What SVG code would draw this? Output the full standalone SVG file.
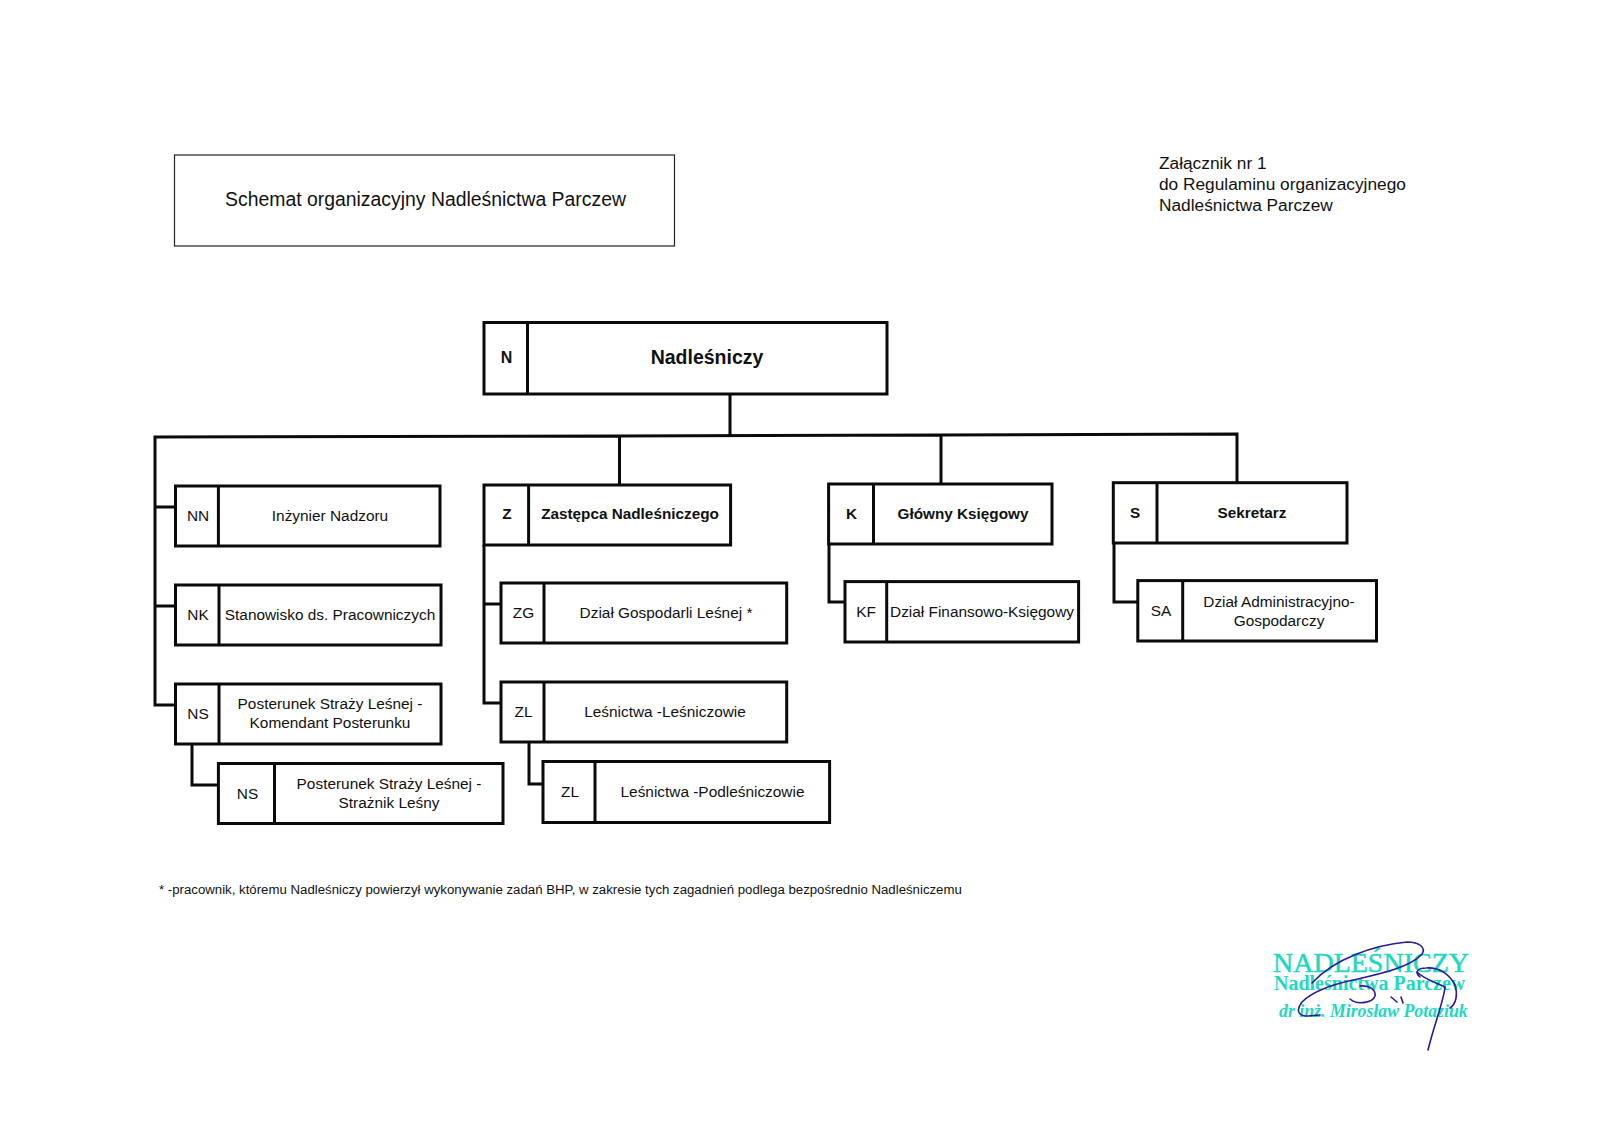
<svg xmlns="http://www.w3.org/2000/svg" width="1600" height="1131" viewBox="0 0 1600 1131">
<style>
text{font-family:"Liberation Sans",Arial,sans-serif;fill:#111;text-anchor:middle}
.b{fill:#fff;stroke:#0a0a0a;stroke-width:3}
.d{fill:none;stroke:#0a0a0a;stroke-width:3}
.c{fill:none;stroke:#0a0a0a;stroke-width:3;stroke-linejoin:miter}
.l{font-size:15.4px}
.h{font-size:15.3px;font-weight:bold}
.s{fill:none;stroke:#2a1a9a;stroke-width:1.6;stroke-linecap:round}
.st{font-family:"Liberation Serif",serif;fill:#1fd8c0;text-anchor:start}
</style>
<rect width="1600" height="1131" fill="#fff"/>
<g id="title"><rect x="174.500" y="155" width="500" height="91" fill="#fff" stroke="#222" stroke-width="1.200"/><text x="425.500" y="206" font-size="19.400">Schemat organizacyjny Nadleśnictwa Parczew</text></g>
<g id="note" font-size="17.300"><text x="1159" y="169" style="text-anchor:start">Załącznik nr 1</text><text x="1159" y="190" style="text-anchor:start">do Regulaminu organizacyjnego</text><text x="1159" y="211" style="text-anchor:start">Nadleśnictwa Parczew</text></g>
<g id="connectors">
<path class="c" d="M730 394V435M175 705H155V437L619 436L941 435L1237 434V482M619.500 436V484M941 435V483M155 507H175M155 606H175"/>
<path class="c" d="M192 744V785H218"/>
<path class="c" d="M484 545V703H501M484 604H501"/>
<path class="c" d="M529 742V784H543"/>
<path class="c" d="M829 544V602H845"/>
<path class="c" d="M1114 543V602H1138"/>
</g>
<g id="N"><rect class="b" x="484" y="322.500" width="403" height="71.500"/><path class="d" d="M527.500 322.500V394"/><text x="506.500" y="363" font-size="16" font-weight="bold">N</text><text x="707" y="364" font-size="19.500" font-weight="bold">Nadleśniczy</text></g>
<g id="NN"><rect class="b" x="175.500" y="486" width="264.500" height="60"/><path class="d" d="M218.400 486V546"/><text class="l" x="198" y="521">NN</text><text class="l" x="330" y="521">Inżynier Nadzoru</text></g>
<g id="NK"><rect class="b" x="175.500" y="585" width="265.500" height="60"/><path class="d" d="M219 585V645"/><text class="l" x="198" y="620">NK</text><text class="l" x="330" y="620">Stanowisko ds. Pracowniczych</text></g>
<g id="NS"><rect class="b" x="175.500" y="684" width="265.500" height="60"/><path class="d" d="M219 684V744"/><text class="l" x="198" y="719">NS</text><text class="l" x="330" y="709">Posterunek Straży Leśnej -</text><text class="l" x="330" y="728">Komendant Posterunku</text></g>
<g id="NS2"><rect class="b" x="218.400" y="763.500" width="284.600" height="60"/><path class="d" d="M274.500 763.500V823.500"/><text class="l" x="247.500" y="799">NS</text><text class="l" x="389" y="789">Posterunek Straży Leśnej -</text><text class="l" x="389" y="808">Strażnik Leśny</text></g>
<g id="Z"><rect class="b" x="484" y="485" width="246.600" height="60"/><path class="d" d="M528.600 485V545"/><text class="h" x="507" y="519">Z</text><text class="h" x="630" y="519">Zastępca Nadleśniczego</text></g>
<g id="ZG"><rect class="b" x="501" y="583" width="285.700" height="60"/><path class="d" d="M544 583V643"/><text class="l" x="523.500" y="618">ZG</text><text class="l" x="666" y="618">Dział Gospodarli Leśnej *</text></g>
<g id="ZL"><rect class="b" x="501" y="682" width="285.700" height="60"/><path class="d" d="M544 682V742"/><text class="l" x="523.500" y="717">ZL</text><text class="l" x="665" y="717">Leśnictwa -Leśniczowie</text></g>
<g id="ZL2"><rect class="b" x="543" y="761.500" width="286.600" height="61"/><path class="d" d="M595 761.500V822.500"/><text class="l" x="570" y="797">ZL</text><text class="l" x="712.500" y="797">Leśnictwa -Podleśniczowie</text></g>
<g id="K"><rect class="b" x="828.600" y="484" width="223.400" height="60"/><path class="d" d="M873.500 484V544"/><text class="h" x="851.500" y="519">K</text><text class="h" x="963" y="519">Główny Księgowy</text></g>
<g id="KF"><rect class="b" x="845" y="581.600" width="233.600" height="60.400"/><path class="d" d="M886.700 581.600V642"/><text class="l" x="866" y="617">KF</text><text class="l" x="982" y="617">Dział Finansowo-Księgowy</text></g>
<g id="S"><rect class="b" x="1113.300" y="482.700" width="233.700" height="60.300"/><path class="d" d="M1157 482.700V543"/><text class="h" x="1135" y="518">S</text><text class="h" x="1252" y="518">Sekretarz</text></g>
<g id="SA"><rect class="b" x="1137.800" y="580.600" width="238.700" height="60.400"/><path class="d" d="M1182.700 580.600V641"/><text class="l" x="1161" y="616">SA</text><text class="l" x="1279" y="607">Dział Administracyjno-</text><text class="l" x="1279" y="626">Gospodarczy</text></g>
<g id="footnote"><text x="159" y="894" font-size="13.230" style="text-anchor:start">* -pracownik, któremu Nadleśniczy powierzył wykonywanie zadań BHP, w zakresie tych zagadnień podlega bezpośrednio Nadleśniczemu</text></g>
<g id="stamp"><text class="st" x="1273" y="972" font-size="28" stroke="#1fd8c0" stroke-width="0.500">NADLEŚNICZY</text><text class="st" x="1274" y="990" font-size="20" font-weight="bold">Nadleśnictwa Parczew</text><text class="st" x="1279" y="1017" font-size="17.800" font-weight="bold" font-style="italic">dr inż. Mirosław Potaziuk</text></g>
<g id="signature">
<path class="s" d="M1312 983C1335 958 1375 945 1407 942C1420 942 1426 948 1422 954C1410 968 1375 975 1353 980C1330 985 1312 992 1302 1002C1296 1010 1298 1015 1305 1016C1310 1016 1316 1015 1320 1015"/>
<path class="s" d="M1360 986C1370 985 1376 990 1375 996C1373 1002 1358 1006 1350 999"/>
<path class="s" d="M1420 977C1414 972 1418 968 1426 968C1440 967 1450 975 1455 985C1458 995 1456 1004 1450 1008"/>
<path class="s" d="M1417 972C1425 980 1438 983 1445 987C1444 1000 1434 1025 1428 1050"/>
<path class="s" d="M1391 997L1397 1002M1401 997L1403 1003"/>
</g>
</svg>
